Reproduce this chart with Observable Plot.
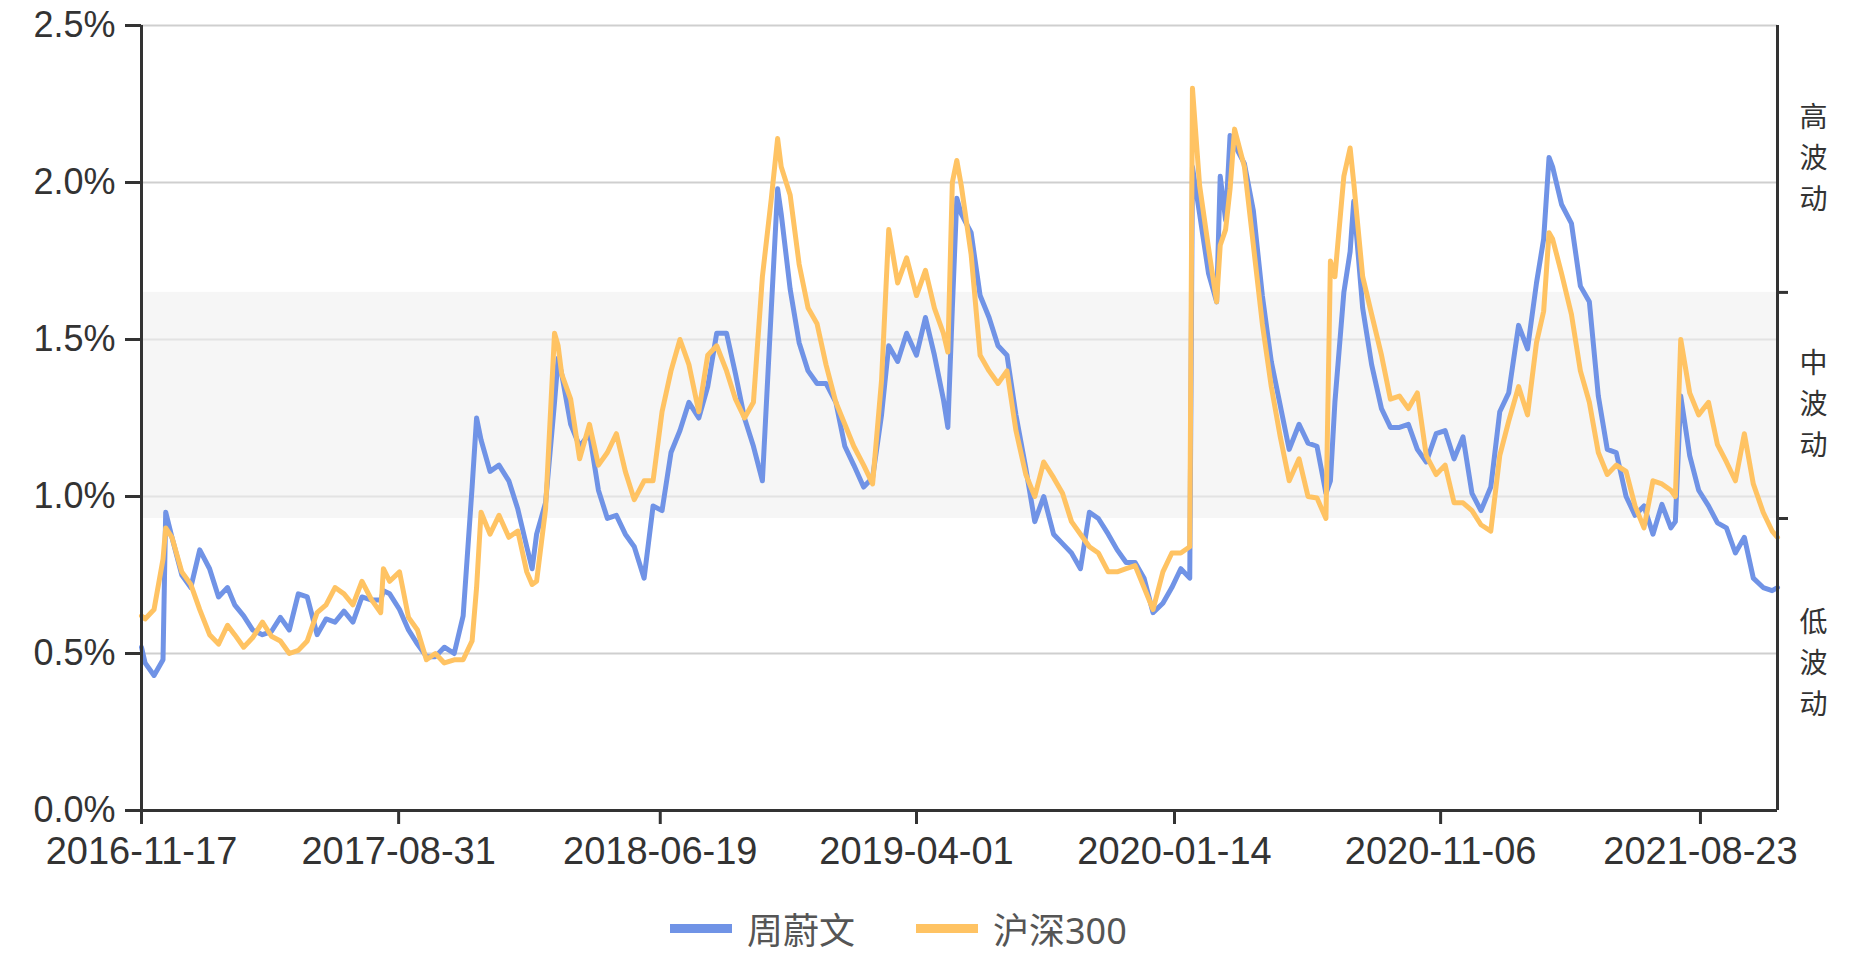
<!DOCTYPE html>
<html>
<head>
<meta charset="utf-8">
<script src="https://cdn.jsdelivr.net/npm/d3@7"></script>
<script src="https://cdn.jsdelivr.net/npm/@observablehq/plot@0.6"></script>
<style>
  html, body { margin: 0; padding: 0; background: #fff; }
  body { width: 1875px; height: 960px; overflow: hidden; font-family: "Noto Sans", "Noto Sans CJK SC", sans-serif; }
  #legend { position: relative; height: 80px; padding-top: 8px; display: flex; align-items: center; padding-left: 670px; font-size: 36px; color: #555; }
  .item { display: flex; align-items: center; }
  .sw { width: 62px; height: 9px; margin-right: 15px; }
</style>
</head>
<body>
<div id="chart"></div>
<div id="legend"></div>
<script>
// ---- data ----
const dates = [
  "2016-11-17","2016-11-21","2016-12-01","2016-12-11","2016-12-14","2016-12-21",
  "2017-01-01","2017-01-11","2017-01-21","2017-02-01","2017-02-11","2017-02-21","2017-03-01","2017-03-11","2017-03-21","2017-04-01","2017-04-11","2017-04-21","2017-05-01","2017-05-11","2017-05-21","2017-06-01","2017-06-11","2017-06-21","2017-07-01","2017-07-11","2017-07-21","2017-08-01","2017-08-11","2017-08-14","2017-08-21","2017-09-01","2017-09-11","2017-09-21","2017-10-01","2017-10-11","2017-10-21","2017-11-01","2017-11-11","2017-11-21","2017-11-26","2017-12-01","2017-12-11","2017-12-21",
  "2018-01-01","2018-01-11","2018-01-21","2018-01-27","2018-02-01","2018-02-11","2018-02-21","2018-02-25","2018-03-01","2018-03-11","2018-03-21","2018-04-01","2018-04-11","2018-04-21","2018-05-01","2018-05-11","2018-05-21","2018-06-01","2018-06-11","2018-06-21","2018-07-01","2018-07-11","2018-07-21","2018-08-01","2018-08-11","2018-08-21","2018-09-01","2018-09-11","2018-09-21","2018-10-01","2018-10-11","2018-10-21","2018-10-28","2018-11-01","2018-11-11","2018-11-21","2018-12-01","2018-12-11","2018-12-21",
  "2019-01-01","2019-01-11","2019-01-21","2019-02-01","2019-02-11","2019-02-21","2019-03-01","2019-03-11","2019-03-21","2019-04-01","2019-04-11","2019-04-21","2019-05-01","2019-05-06","2019-05-11","2019-05-16","2019-05-21","2019-06-01","2019-06-11","2019-06-21","2019-07-01","2019-07-11","2019-07-21","2019-08-01","2019-08-11","2019-08-21","2019-09-01","2019-09-11","2019-09-21","2019-10-01","2019-10-11","2019-10-21","2019-11-01","2019-11-11","2019-11-21","2019-12-01","2019-12-11","2019-12-21",
  "2020-01-01","2020-01-11","2020-01-21","2020-01-31","2020-02-03","2020-02-11","2020-02-21","2020-03-01","2020-03-05","2020-03-11","2020-03-16","2020-03-21","2020-04-01","2020-04-11","2020-04-21","2020-05-01","2020-05-11","2020-05-21","2020-06-01","2020-06-11","2020-06-21","2020-07-01","2020-07-06","2020-07-11","2020-07-21","2020-07-28","2020-08-01","2020-08-11","2020-08-21","2020-09-01","2020-09-11","2020-09-21","2020-10-01","2020-10-11","2020-10-21","2020-11-01","2020-11-11","2020-11-21","2020-12-01","2020-12-11","2020-12-21",
  "2021-01-01","2021-01-11","2021-01-21","2021-02-01","2021-02-11","2021-02-21","2021-03-01","2021-03-07","2021-03-11","2021-03-21","2021-04-01","2021-04-11","2021-04-21","2021-05-01","2021-05-11","2021-05-21","2021-06-01","2021-06-11","2021-06-21","2021-07-01","2021-07-11","2021-07-21","2021-07-26","2021-08-01","2021-08-11","2021-08-21","2021-09-01","2021-09-11","2021-09-21","2021-10-01","2021-10-11","2021-10-21","2021-11-01","2021-11-11","2021-11-17"
];
// 周蔚文 (%)
const fundVol = [
  0.52,0.47,0.43,0.48,0.95,0.87,
  0.75,0.71,0.83, 0.77,0.68,0.71, 0.655,0.62,0.575, 0.56,0.57,0.615, 0.575,0.69,0.68, 0.56,0.61,0.60, 0.635,0.60,0.68, 0.67,0.67,0.70,0.69, 0.64,0.575,0.53, 0.49,0.49,0.52, 0.50,0.62,1.03,1.25, 1.18,1.08,1.10,
  1.05,0.96,0.84,0.77, 0.88,0.98,1.30,1.44, 1.39,1.23,1.16, 1.20,1.02,0.93, 0.94,0.88,0.84, 0.74,0.97,0.955, 1.14,1.21,1.30, 1.25,1.35,1.52, 1.52,1.39,1.25, 1.16,1.05,1.60,1.98, 1.90,1.66,1.49, 1.40,1.36,1.36,
  1.30,1.16,1.10, 1.03,1.06,1.26, 1.48,1.43,1.52, 1.45,1.57,1.45, 1.31,1.22,1.60,1.95,1.90, 1.84,1.64,1.57, 1.48,1.45,1.26, 1.09,0.92,1.00, 0.88,0.85,0.82, 0.77,0.95,0.93, 0.88,0.83,0.79, 0.79,0.74,0.63,
  0.66,0.71,0.77,0.74, 2.05,1.90,1.71, 1.62,2.02,1.88,2.15,2.12, 2.06,1.91,1.64, 1.43,1.29,1.15, 1.23,1.17,1.16, 1.01,1.05,1.30,1.65,1.78, 1.94,1.60,1.42, 1.28,1.22,1.22, 1.23,1.15,1.11, 1.20,1.21,1.12, 1.19,1.01,0.955,
  1.03,1.27,1.33, 1.545,1.47,1.68, 1.82,2.08,2.05,1.93, 1.87,1.67,1.62, 1.32,1.15,1.14, 1.00,0.94,0.97, 0.88,0.975,0.90,0.92, 1.32,1.13,1.02, 0.97,0.916,0.90, 0.82,0.87,0.74, 0.71,0.70,0.71
];
// 沪深300 (%)
const indexVol = [
  0.62,0.61,0.64,0.80,0.90,0.87,
  0.76,0.72,0.64, 0.56,0.53,0.59, 0.56,0.52,0.55, 0.60,0.555,0.54, 0.50,0.51,0.54, 0.63,0.655,0.71, 0.69,0.655,0.73, 0.67,0.63,0.77,0.73, 0.76,0.615,0.575, 0.48,0.50,0.47, 0.48,0.48,0.54,0.71, 0.95,0.88,0.94,
  0.87,0.89,0.76,0.72, 0.73,0.96,1.52,1.48, 1.39,1.31,1.12, 1.23,1.10,1.14, 1.20,1.08,0.99, 1.05,1.05,1.27, 1.40,1.50,1.42, 1.27,1.45,1.48, 1.40,1.31,1.25, 1.30,1.70,1.95,2.14, 2.05,1.96,1.74, 1.60,1.55,1.42,
  1.30,1.23,1.16, 1.10,1.04,1.37, 1.85,1.68,1.76, 1.64,1.72,1.60, 1.52,1.46,2.00,2.07,1.99, 1.77,1.45,1.40, 1.36,1.40,1.21, 1.07,1.00,1.11, 1.06,1.01,0.92, 0.88,0.84,0.82, 0.76,0.76,0.77, 0.78,0.71,0.64,
  0.76,0.82,0.82,0.84, 2.30,1.99,1.79, 1.62,1.80,1.85,1.98,2.17, 2.05,1.80,1.55, 1.35,1.19,1.05, 1.12,1.00,0.995, 0.93,1.75,1.70,2.02,2.11, 2.00,1.70,1.58, 1.45,1.31,1.32, 1.28,1.33,1.13, 1.07,1.10,0.98, 0.98,0.955,0.91,
  0.89,1.13,1.24, 1.35,1.26,1.49, 1.59,1.84,1.82,1.71, 1.58,1.40,1.30, 1.14,1.07,1.10, 1.08,0.97,0.90, 1.05,1.04,1.02,1.00, 1.50,1.33,1.26, 1.30,1.165,1.11, 1.05,1.20,1.04, 0.95,0.89,0.87
];
const seriesNames = ["周蔚文", "沪深300"];
const seriesColors = ["#7093e6", "#ffc363"];
const yTicks = [0, 0.5, 1.0, 1.5, 2.0, 2.5];
const xTickLabels = ["2016-11-17","2017-08-31","2018-06-19","2019-04-01","2020-01-14","2020-11-06","2021-08-23"];
const bandEdges = [0.93, 1.65];
const bandLabels = ["低波动", "中波动", "高波动"];

// ---- build ----
if (dates.length !== fundVol.length || dates.length !== indexVol.length)
  console.error("length mismatch", dates.length, fundVol.length, indexVol.length);

const parse = d3.utcParse("%Y-%m-%d");
const rows = dates.map((d, i) => ({date: parse(d), fund: fundVol[i], index: indexVol[i]}));
const start = rows[0].date, end = rows[rows.length - 1].date;
const yMax = yTicks[yTicks.length - 1];
const lows = [0, ...bandEdges], highs = [...bandEdges, yMax];
const bands = bandLabels.map((label, i) => ({label, lo: lows[i], hi: highs[i]}));
const font = '"Noto Sans", "Noto Sans CJK SC", sans-serif';
const numFont = '"Liberation Sans", "Noto Sans", sans-serif';
const labelSize = 28, labelPitch = 41;

// one text mark per character position, stacked top-to-bottom
const labelMarks = [0, 1, 2].map(k => Plot.text(bands, {
  x: () => end,
  y: d => (d.lo + d.hi) / 2,
  text: d => Array.from(d.label)[k],
  dx: 36,
  dy: (k - 1) * labelPitch,
  fontSize: labelSize,
  fill: "#333",
  textAnchor: "middle",
  fontFamily: '"Noto Sans CJK SC", sans-serif'
}));

const chart = Plot.plot({
  width: 1875,
  height: 880,
  marginLeft: 141,
  marginRight: 98,
  marginTop: 25,
  marginBottom: 70,
  style: {fontFamily: font, background: "#fff", color: "#333", overflow: "visible"},
  x: {type: "utc", domain: [start, end], label: null},
  y: {domain: [0, yMax], label: null},
  marks: [
    Plot.ruleY(yTicks.filter(d => d > 0), {stroke: "#cfcfcf", strokeWidth: 2}),
    Plot.rect([bands[1]], {x1: () => start, x2: () => end, y1: "lo", y2: "hi", fill: "#f0f0f0", fillOpacity: 0.6}),
    Plot.line(rows, {x: "date", y: "fund", stroke: seriesColors[0], strokeWidth: 5, strokeLinejoin: "round"}),
    Plot.line(rows, {x: "date", y: "index", stroke: seriesColors[1], strokeWidth: 5, strokeLinejoin: "round"}),
    Plot.axisY({ticks: yTicks, tickFormat: d => d.toFixed(1) + "%", tickSize: 16, tickPadding: 10, fontSize: 36, fontFamily: numFont, stroke: "#333", strokeWidth: 3, fill: "#333", label: null}),
    Plot.axisX({ticks: xTickLabels.map(parse), tickFormat: d3.utcFormat("%Y-%m-%d"), tickSize: 14, tickPadding: 13, fontSize: 38, fontFamily: numFont, stroke: "#333", strokeWidth: 3, fill: "#333", label: null}),
    Plot.axisY({anchor: "right", ticks: bandEdges, tickFormat: () => "", tickSize: 10, stroke: "#333", strokeWidth: 3, label: null}),
    Plot.ruleX([start, end], {stroke: "#333", strokeWidth: 3}),
    Plot.ruleY([0], {stroke: "#333", strokeWidth: 3}),
    ...labelMarks
  ]
});
document.getElementById("chart").appendChild(chart);

// ---- legend ----
const legend = document.getElementById("legend");
seriesNames.forEach((name, i) => {
  const item = document.createElement("div");
  item.className = "item";
  if (i > 0) item.style.marginLeft = "61px";
  const sw = document.createElement("div");
  sw.className = "sw";
  sw.style.background = seriesColors[i];
  const t = document.createElement("span");
  t.textContent = name;
  item.appendChild(sw);
  item.appendChild(t);
  legend.appendChild(item);
});
</script>
</body>
</html>
